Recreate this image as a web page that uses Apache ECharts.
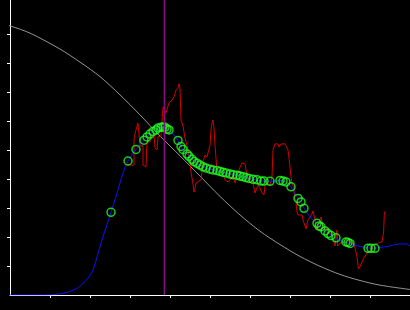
<!DOCTYPE html>
<html>
<head>
<meta charset="utf-8">
<script src="https://cdn.jsdelivr.net/npm/echarts@6/dist/echarts.min.js"></script>
<style>html,body{margin:0;padding:0;background:#000;}#c{width:410px;height:310px;}</style>
</head>
<body>
<div id="c"></div>
<script>
// Tick positions (no labels in the reference)
const xTicks = [1, 2, 3, 4, 5, 6, 7, 8, 9];
const yTicks = [1, 2, 3, 4, 5, 6, 7, 8, 9];

// Gray reference curve
const grayX = [-0.25, 0, 0.5, 1.25, 1.75, 2.25, 2.75, 3.25, 3.75, 4.25, 4.75, 5.25, 5.75, 6.25, 6.75, 7.25, 7.75, 8.25, 8.75, 9.25, 10];
const grayY = [9.37, 9.28, 9.03, 8.48, 8.03, 7.53, 6.90, 6.21, 5.48, 4.80, 4.10, 3.40, 2.76, 2.20, 1.74, 1.33, 0.99, 0.71, 0.50, 0.34, 0.19];

// Blue fitted curve
const blueX = [0, 0.9, 1.2, 1.425, 1.675, 1.825, 1.95, 2.075, 2.2, 2.325, 2.525, 2.675, 2.825, 2.95, 3.15, 3.35, 3.5, 3.625, 3.75, 3.825, 3.925, 4.05, 4.2, 4.275, 4.325, 4.425, 4.55, 4.675, 4.825, 5.0, 5.175, 5.325, 5.5, 5.675, 5.875, 6.075, 6.3, 6.5, 6.75, 6.9, 7.025, 7.2, 7.275, 7.35, 7.5, 7.675, 7.825, 8.0, 8.175, 8.375, 8.625, 8.875, 9.075, 9.25, 9.425, 9.75, 9.925, 10];
const blueY = [0, 0, 0.03, 0.09, 0.23, 0.40, 0.58, 0.86, 1.44, 2.01, 2.85, 3.51, 4.20, 4.62, 5.02, 5.34, 5.55, 5.69, 5.78, 5.79, 5.72, 5.59, 5.33, 5.12, 5.02, 4.86, 4.68, 4.54, 4.42, 4.34, 4.29, 4.23, 4.17, 4.13, 4.06, 3.99, 3.93, 3.91, 3.95, 3.90, 3.73, 3.33, 3.21, 2.99, 2.70, 2.47, 2.27, 2.09, 1.93, 1.81, 1.72, 1.64, 1.61, 1.64, 1.67, 1.76, 1.76, 1.69];

// Green sample points
const ptX = [2.525, 2.95, 3.15, 3.35, 3.425, 3.5, 3.575, 3.65, 3.7, 3.775, 3.825, 3.875, 3.925, 3.975, 4.2, 4.275, 4.325, 4.425, 4.475, 4.55, 4.6, 4.675, 4.75, 4.825, 4.9, 5.0, 5.075, 5.175, 5.25, 5.325, 5.4, 5.5, 5.575, 5.675, 5.75, 5.825, 5.9, 5.975, 6.075, 6.175, 6.275, 6.35, 6.5, 6.75, 6.825, 6.9, 7.025, 7.2, 7.275, 7.35, 7.675, 7.725, 7.775, 7.875, 7.95, 8.025, 8.15, 8.4, 8.45, 8.5, 8.95, 9.025, 9.125];
const ptY = [2.85, 4.62, 5.02, 5.34, 5.45, 5.55, 5.64, 5.69, 5.76, 5.78, 5.79, 5.78, 5.72, 5.69, 5.33, 5.12, 5.02, 4.86, 4.78, 4.68, 4.60, 4.54, 4.48, 4.42, 4.38, 4.34, 4.31, 4.29, 4.26, 4.23, 4.21, 4.17, 4.15, 4.13, 4.10, 4.08, 4.05, 4.02, 3.99, 3.97, 3.93, 3.93, 3.92, 3.95, 3.93, 3.90, 3.73, 3.33, 3.21, 2.99, 2.47, 2.38, 2.35, 2.21, 2.12, 2.05, 1.97, 1.83, 1.81, 1.78, 1.61, 1.61, 1.61];

// Red raw measurements
const redX = [2.925, 3.1, 3.1, 3.15, 3.15, 3.2, 3.225, 3.25, 3.325, 3.325, 3.4, 3.425, 3.5, 3.5, 3.6, 3.625, 3.675, 3.7, 3.775, 3.8, 3.825, 3.875, 3.9, 3.95, 3.975, 4.05, 4.1, 4.15, 4.2, 4.225, 4.25, 4.275, 4.325, 4.375, 4.425, 4.5, 4.525, 4.575, 4.6, 4.625, 4.65, 4.7, 4.775, 4.825, 4.875, 4.925, 4.95, 5.0, 5.025, 5.05, 5.075, 5.1, 5.125, 5.15, 5.175, 5.2, 5.25, 5.325, 5.375, 5.425, 5.45, 5.55, 5.575, 5.625, 5.675, 5.75, 5.8, 5.85, 5.875, 5.9, 5.95, 6.025, 6.075, 6.125, 6.175, 6.2, 6.25, 6.3, 6.35, 6.375, 6.425, 6.5, 6.55, 6.575, 6.625, 6.7, 6.725, 6.775, 6.875, 6.925, 6.95, 6.975, 7.0, 7.025, 7.05, 7.1, 7.11, 7.15, 7.175, 7.2, 7.3, 7.325, 7.375, 7.4, 7.425, 7.45, 7.5, 7.55, 7.575, 7.625, 7.65, 7.7, 7.725, 7.775, 7.8, 7.825, 7.875, 7.925, 7.95, 8.05, 8.075, 8.125, 8.175, 8.19, 8.25, 8.3, 8.375, 8.5, 8.575, 8.625, 8.675, 8.71, 8.75, 8.8, 8.85, 8.925, 9.0, 9.075, 9.2, 9.3, 9.34, 9.36, 9.4];
const redY = [4.48, 4.48, 5.41, 5.41, 5.69, 5.93, 5.97, 5.14, 5.14, 4.48, 4.41, 5.28, 5.28, 5.52, 5.52, 5.07, 5.00, 5.45, 5.48, 5.97, 6.48, 6.48, 6.28, 6.31, 6.62, 6.72, 6.83, 7.07, 7.14, 7.28, 7.14, 6.03, 5.83, 5.41, 5.17, 4.59, 4.24, 3.83, 3.55, 3.69, 3.86, 3.90, 3.97, 4.59, 4.83, 4.76, 4.76, 5.17, 5.69, 5.93, 6.03, 5.76, 5.17, 4.72, 4.31, 4.21, 4.31, 4.14, 3.97, 4.03, 3.90, 4.03, 4.14, 3.86, 4.10, 4.41, 4.55, 4.59, 4.52, 4.31, 4.03, 3.97, 3.86, 3.52, 3.55, 3.79, 3.69, 3.52, 3.45, 3.76, 3.86, 3.79, 4.07, 5.00, 5.21, 5.21, 5.10, 5.21, 5.21, 5.07, 5.00, 4.72, 4.41, 4.07, 3.83, 3.69, 3.38, 3.21, 2.86, 2.76, 2.76, 2.59, 2.59, 2.28, 2.28, 2.59, 2.62, 2.79, 2.90, 2.59, 2.24, 2.34, 2.52, 2.69, 2.69, 2.34, 2.24, 2.31, 2.14, 2.10, 1.97, 1.69, 2.24, 1.69, 1.79, 1.79, 1.83, 1.83, 1.79, 1.62, 1.31, 0.90, 0.97, 1.14, 1.28, 1.45, 1.52, 1.69, 1.79, 1.83, 2.17, 2.86, 2.86];

// Vertical marker position
const markerX = 3.86;

const yMax = 10.172;
const zip = (a, b) => a.map((v, i) => [v, b[i]]);

const chart = echarts.init(document.getElementById('c'), null, {renderer: 'canvas'});
chart.setOption({
  backgroundColor: '#000000',
  animation: false,
  grid: {left: 10, right: 0, top: 0, bottom: 15, containLabel: false},
  xAxis: {
    type: 'value', min: 0, max: 10,
    axisLine: {show: true, onZero: false, lineStyle: {color: '#ffffff', width: 1}},
    axisTick: {show: true, length: 3, customValues: xTicks, lineStyle: {color: '#ffffff', width: 1}},
    axisLabel: {show: false},
    splitLine: {show: false}
  },
  yAxis: {
    type: 'value', min: 0, max: yMax,
    axisLine: {show: true, onZero: false, lineStyle: {color: '#ffffff', width: 1}},
    axisTick: {show: true, length: 3, customValues: yTicks, lineStyle: {color: '#ffffff', width: 1}},
    axisLabel: {show: false},
    splitLine: {show: false}
  },
  series: [
    {
      type: 'line', data: zip(grayX, grayY), smooth: 0.3, clip: false, showSymbol: false, z: 1,
      lineStyle: {color: '#959595', width: 1}
    },
    {
      type: 'line', data: zip(redX, redY), showSymbol: false, z: 2,
      lineStyle: {color: '#d40000', width: 1}
    },
    {
      type: 'line', data: zip(blueX, blueY), smooth: 0.3, showSymbol: false, z: 3,
      lineStyle: {color: '#1010ff', width: 1}
    },
    {
      type: 'scatter', data: zip(ptX, ptY), symbol: 'circle', symbolSize: 8, z: 4,
      itemStyle: {color: 'rgba(0,0,0,0)', borderColor: '#22ff22', borderWidth: 1.5}
    },
    {
      type: 'line', data: [[markerX, 0], [markerX, yMax]], showSymbol: false, z: 5,
      lineStyle: {color: '#8a0a8a', width: 1.5}
    }
  ]
});
</script>
</body>
</html>
